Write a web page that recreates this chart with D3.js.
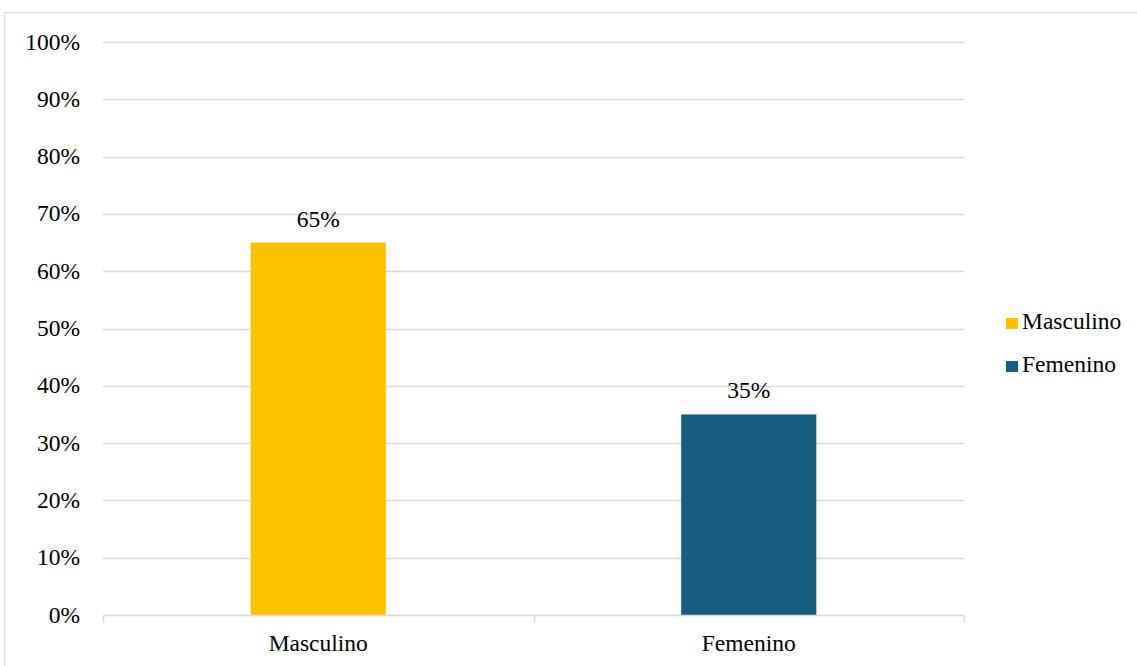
<!DOCTYPE html>
<html>
<head>
<meta charset="utf-8">
<script src="https://cdn.jsdelivr.net/npm/d3@7"></script>
<style>
  body { margin: 0; background: #fff; }
</style>
</head>
<body>
<div id="chart"></div>
<script>
// Distribución por sexo
const categories = ["Masculino", "Femenino"];
const values = [0.65, 0.35];
const colors = ["#ffc000", "#175f81"];
const yTicks = [0, 0.1, 0.2, 0.3, 0.4, 0.5, 0.6, 0.7, 0.8, 0.9, 1.0];

const W = 1137, H = 666;
const plot = { left: 103, right: 964, top: 42, bottom: 615 };
const FONT = "Liberation Serif";
const FS = "23.5px";

const svg = d3.select("#chart")
    .append("svg")
    .attr("width", W)
    .attr("height", H);

// chart frame
svg.append("rect")
    .attr("x", 4.5)
    .attr("y", 12.5)
    .attr("width", W + 10)
    .attr("height", H)
    .attr("fill", "#fff")
    .attr("stroke", "#d9d9d9")
    .attr("stroke-width", 1.3);

const x = d3.scaleBand()
    .domain(categories)
    .range([plot.left, plot.right])
    .padding(0);

const y = d3.scaleLinear()
    .domain([0, 1])
    .range([plot.bottom, plot.top]);

// gridlines
svg.append("g")
    .selectAll("line")
    .data(yTicks.filter(d => d > 0))
    .enter()
    .append("line")
    .attr("x1", plot.left)
    .attr("x2", plot.right)
    .attr("y1", d => Math.round(y(d)) + 0.5)
    .attr("y2", d => Math.round(y(d)) + 0.5)
    .attr("stroke", "#d9d9d9")
    .attr("stroke-width", 1.5);

// y labels
svg.append("g")
    .selectAll("text")
    .data(yTicks)
    .enter()
    .append("text")
    .attr("x", 80)
    .attr("y", d => y(d) + 7.5)
    .attr("text-anchor", "end")
    .style("font-family", FONT)
    .style("font-size", FS)
    .text(d => d3.format(".0%")(d));

// bars
const barW = x.bandwidth() * 0.314;
svg.append("g")
    .selectAll("rect")
    .data(categories)
    .enter()
    .append("rect")
    .attr("x", d => x(d) + x.bandwidth() / 2 - barW / 2)
    .attr("width", barW)
    .attr("y", (d, i) => y(values[i]))
    .attr("height", (d, i) => y(0) - y(values[i]))
    .attr("fill", (d, i) => colors[i]);

// x axis
const xAxis = svg.append("g")
    .attr("transform", `translate(0,${Math.round(y(0)) + 0.5})`);
xAxis.append("line")
    .attr("x1", plot.left)
    .attr("x2", plot.right)
    .attr("stroke", "#d9d9d9")
    .attr("stroke-width", 1.5);
xAxis.selectAll(".tick")
    .data(categories.map(c => x(c)).concat([plot.right]))
    .enter()
    .append("line")
    .attr("x1", d => Math.round(d) + 0.5)
    .attr("x2", d => Math.round(d) + 0.5)
    .attr("y1", 0)
    .attr("y2", 7)
    .attr("stroke", "#d9d9d9")
    .attr("stroke-width", 1.5);
xAxis.selectAll("text")
    .data(categories)
    .enter()
    .append("text")
    .attr("x", d => x(d) + x.bandwidth() / 2)
    .attr("y", 35)
    .attr("text-anchor", "middle")
    .style("font-family", FONT)
    .style("font-size", FS)
    .text(d => d);

// value labels
svg.append("g")
    .selectAll("text")
    .data(categories)
    .enter()
    .append("text")
    .attr("x", d => x(d) + x.bandwidth() / 2)
    .attr("y", (d, i) => y(values[i]) - 16)
    .attr("text-anchor", "middle")
    .style("font-family", FONT)
    .style("font-size", FS)
    .text((d, i) => d3.format(".0%")(values[i]));

// legend
const legend = svg.append("g")
    .attr("transform", "translate(1006,329)");
const items = legend.selectAll("g")
    .data(categories)
    .enter()
    .append("g")
    .attr("transform", (d, i) => `translate(0,${i * 43})`);
items.append("rect")
    .attr("x", 0)
    .attr("y", -11)
    .attr("width", 12)
    .attr("height", 11)
    .attr("fill", (d, i) => colors[i]);
items.append("text")
    .attr("x", 16)
    .attr("y", 0)
    .style("font-family", FONT)
    .style("font-size", FS)
    .text(d => d);
</script>
</body>
</html>
